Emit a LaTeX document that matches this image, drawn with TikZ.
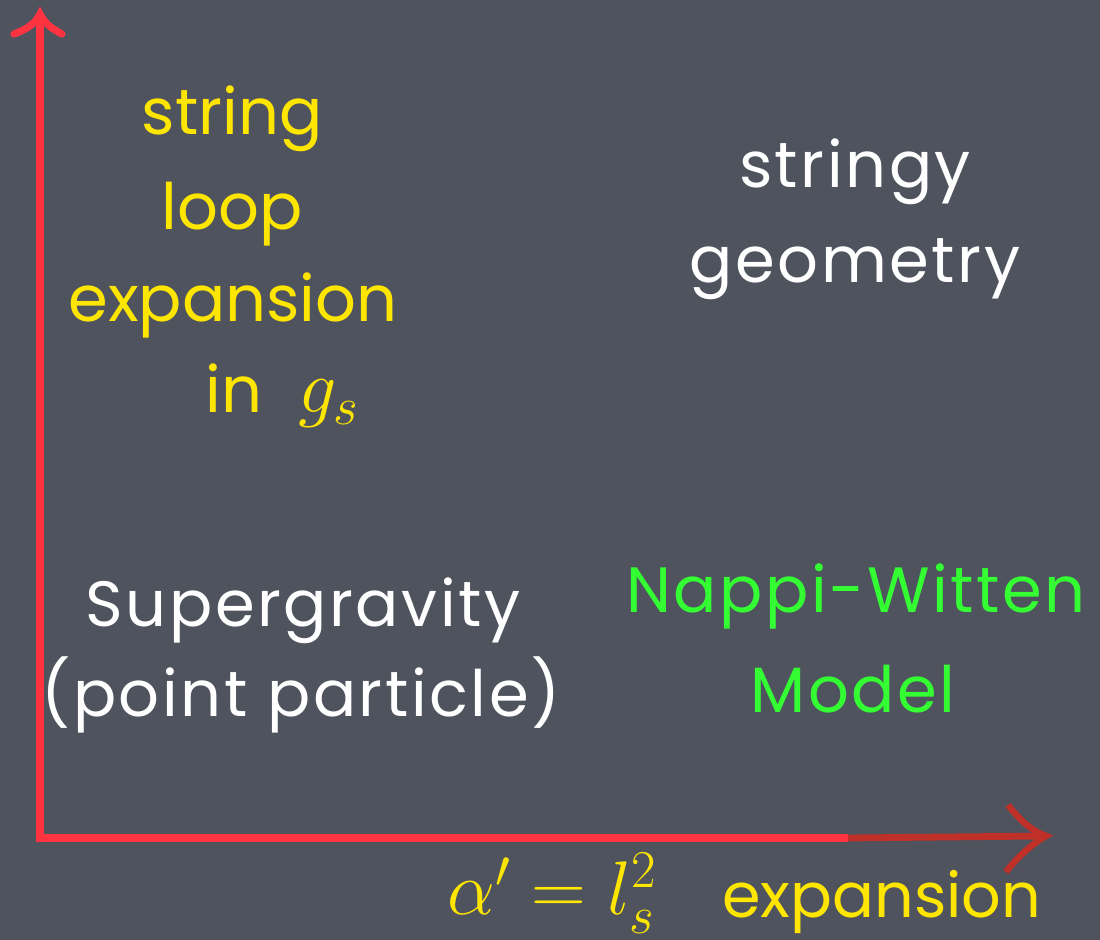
\RequirePackage{fix-cm}
\documentclass[tikz,border=0pt]{standalone}
\usepackage{fontspec}
\setmainfont{Poppins}
\newfontfamily\chalkwide[LetterSpace=4]{Poppins}
\definecolor{board}{RGB}{78,83,94}
\definecolor{axred}{RGB}{255,52,64}
\definecolor{axdark}{RGB}{190,48,40}
\definecolor{chalkyellow}{RGB}{255,230,0}
\definecolor{chalkgreen}{RGB}{51,255,51}
\newcommand{\bigmath}[1]{{\fontsize{38}{44}\selectfont$#1$}}
\begin{document}
\begin{tikzpicture}[x=0.5pt,y=-0.5pt,
  lbl/.style={inner sep=0pt, anchor=base, font=\fontsize{32}{38}\selectfont},
  wlbl/.style={inner sep=0pt, anchor=base, font=\fontsize{32}{38}\chalkwide},
  axis/.style={line width=4pt, line cap=butt}]
\fill[board] (0,0) rectangle (1100,940);
\useasboundingbox (0,0) rectangle (1100,940);
% axes
\coordinate (ytip) at (40,14);
\coordinate (xmid) at (848,838);
\coordinate (xtip) at (1046,836);
\draw[axis, axred] (40,842) -- (ytip);
\draw[axis, axred] (36,838) -- (xmid);
\draw[axis, axdark, line width=3.4pt] (xmid) -- (xtip);
\draw[axred, line width=3.6pt, line cap=round] (14,34) .. controls (30,28) and (36,22) .. (ytip) .. controls (44,22) and (50,28) .. (62,34);
\draw[axdark, line width=3.2pt, line cap=butt] (1008,805) .. controls (1020,820) and (1030,830) .. (xtip) .. controls (1030,845) and (1015,860) .. (1006,872);
% labels
\node[lbl, text=chalkyellow] (string) at (232,135) {string};
\node[lbl, text=chalkyellow] (loop) at (232,230) {loop};
\node[lbl, text=chalkyellow] (exp) at (233,322) {expansion};
\node[lbl, anchor=base west, text=chalkyellow] (ings) at (205,413) {in\hspace{18pt}\bigmath{g_s}};
\node[wlbl, text=white] (stringy) at (855,188) {stringy};
\node[wlbl, text=white] (geom) at (855,283) {geometry};
\node[wlbl, text=white] (sugra) at (303,627) {Supergravity};
\node[wlbl, text=white] (pp) at (301,717) {(point particle)};
\node[wlbl, text=chalkgreen] (nw) at (856,613) {Nappi-Witten};
\node[wlbl, text=chalkgreen] (model) at (853,713) {Model};
\node[lbl, anchor=base west, text=chalkyellow] (alpha) at (447,915) {\bigmath{\alpha'=l_s^2}};
\node[lbl, anchor=base west, text=chalkyellow, font=\fontsize{31}{37}\selectfont] (xexp) at (722,918) {expansion};
\end{tikzpicture}
\end{document}
